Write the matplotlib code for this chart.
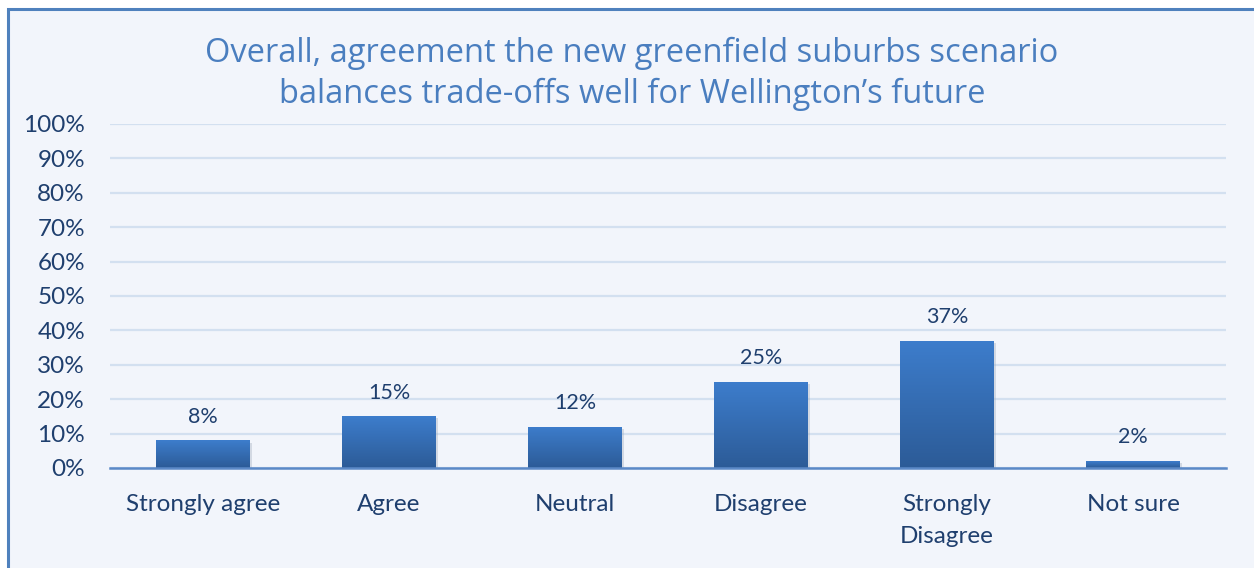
import numpy as np
import matplotlib.pyplot as plt
from matplotlib.patches import Rectangle
from matplotlib.colors import LinearSegmentedColormap

categories = ['Strongly agree', 'Agree', 'Neutral', 'Disagree', 'Strongly\nDisagree', 'Not sure']
values = [8, 15, 12, 25, 37, 2]
labels = ['8%', '15%', '12%', '25%', '37%', '2%']
yticks = np.arange(0, 101, 10)

title = "Overall, agreement the new greenfield suburbs scenario\nbalances trade-offs well for Wellington\u2019s future"

W, H = 1254, 568
fig = plt.figure(figsize=(W / 100, H / 100), dpi=100, facecolor='white')

# panel background with left/top border (rest is cropped)
bg = Rectangle((8 / W, -0.1), 1.2, 1.1 - 9 / H, transform=fig.transFigure,
               facecolor='#f2f5fb', edgecolor='#4f81bd', linewidth=2.2, zorder=-10)
fig.patches.append(bg)

ax = fig.add_axes([110 / W, 100 / H, 1116 / W, 344 / H])
ax.set_facecolor('none')

x = np.arange(len(categories))
bars = ax.bar(x, values, width=0.505, color='none', zorder=3)

# vertical gradient fill, light on top, dark at bottom
grad = np.linspace(0, 1, 256).reshape(-1, 1)
cmap = LinearSegmentedColormap.from_list('bar', ['#2c5b97', '#3d7dcc'])
for b in bars:
    x0, w, h = b.get_x(), b.get_width(), b.get_height()
    # soft shadow
    ax.add_patch(Rectangle((x0 + 0.01, -0.6), w, h, facecolor='#9aa7b8', alpha=0.35,
                           edgecolor='none', zorder=2))
    im = ax.imshow(grad, extent=[x0, x0 + w, 0, h], origin='lower', cmap=cmap,
                   aspect='auto', zorder=3)
    im.set_clip_path(b)

for xi, v, lab in zip(x, values, labels):
    ax.annotate(lab, (xi, v), xytext=(0, 10), textcoords='offset points',
                ha='center', va='bottom', fontsize=15.5, color='#1f3f6e', family='Lato')

ax.set_xlim(-0.5, len(categories) - 0.5)
ax.set_ylim(0, 100)
ax.set_yticks(yticks)
ax.set_yticklabels([f'{t}%' for t in yticks])
ax.set_xticks(x)
ax.set_xticklabels(categories, linespacing=1.6)
ax.tick_params(length=0, labelsize=17.5, labelcolor='#1f3f6e')
ax.tick_params(axis='x', pad=19)
ax.tick_params(axis='y', pad=18)
for lab in ax.get_xticklabels() + ax.get_yticklabels():
    lab.set_family('Lato')

ax.grid(axis='y', color='#d3e0f0', linewidth=1.6, zorder=0)
ax.set_axisbelow(True)
for s in ['top', 'right', 'left']:
    ax.spines[s].set_visible(False)
ax.spines['bottom'].set_color('#5b89c7')
ax.spines['bottom'].set_linewidth(1.8)
ax.spines['bottom'].set_zorder(4)

fig.text(632 / W, 1 - 74 / H, title, ha='center', va='center', fontsize=23.5,
         color='#4a7ebf', family='Open Sans', linespacing=1.3)

fig.savefig('out.png', dpi=100, facecolor='white')
